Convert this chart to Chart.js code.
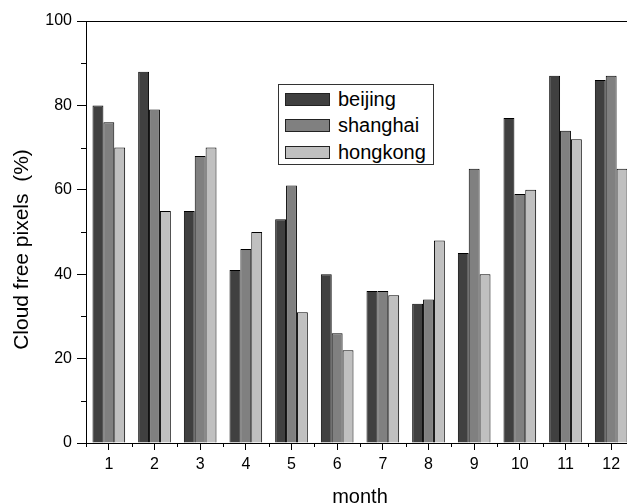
<!DOCTYPE html>
<html>
<head>
<meta charset="utf-8">
<script src="https://cdn.jsdelivr.net/npm/chart.js@4/dist/chart.umd.min.js"></script>
<style>
  html, body { margin: 0; padding: 0; background: #fff; }
  #wrap { position: relative; width: 627px; height: 504px; overflow: hidden; }
  #chart { position: absolute; left: 0; top: 0; }
  #legend {
    position: absolute; left: 278px; top: 84px; width: 154px; height: 79px;
    border: 1px solid #333; background: #fff;
    font-family: 'Liberation Sans', Arial, sans-serif; font-size: 20px; color: #000;
  }
  .lg-row { position: absolute; left: 6px; height: 26px; display: flex; align-items: center; }
  .lg-box { width: 43px; height: 11px; border: 1px solid #222; margin-right: 8px; }
</style>
</head>
<body>
<div id="wrap">
  <canvas id="chart" width="640" height="504"></canvas>
  <div id="legend"></div>
</div>
<script>
// ─── DATA ─────────────────────────────────────────────────
const MONTHS   = ['1', '2', '3', '4', '5', '6', '7', '8', '9', '10', '11', '12'];
const BEIJING  = [80, 88, 55, 41, 53, 40, 36, 33, 45, 77, 87, 86];
const SHANGHAI = [76, 79, 68, 46, 61, 26, 36, 34, 65, 59, 74, 87];
const HONGKONG = [70, 55, 70, 50, 31, 22, 35, 48, 40, 60, 72, 65];
const SERIES   = ['beijing', 'shanghai', 'hongkong'];
const Y_MINOR  = [10, 30, 50, 70, 90];   // short ticks between labelled ones

// ─── COLORS ───────────────────────────────────────────────
const FILL = ['#404040', '#808080', '#c0c0c0'];
const FONT = "'Liberation Sans', Arial, sans-serif";

// minor ticks + top/right frame, placed through the chart's own scales
const frameTicks = {
  id: 'frameTicks',
  afterDraw(chart) {
    const { ctx, chartArea: a, scales: { x, y } } = chart;
    ctx.save();
    ctx.strokeStyle = '#000';
    ctx.lineWidth = 1;
    ctx.beginPath();
    ctx.moveTo(a.left, a.top + 0.5);
    ctx.lineTo(a.right, a.top + 0.5);
    ctx.lineTo(a.right + 0.5, a.bottom);
    Y_MINOR.forEach(v => {
      const py = Math.round(y.getPixelForValue(v)) + 0.5;
      ctx.moveTo(a.left, py);
      ctx.lineTo(a.left - 5, py);
    });
    for (let i = 0; i <= MONTHS.length; i++) {
      const px = Math.round(x.getPixelForValue(i - 0.5)) + 0.5;
      ctx.moveTo(px, a.bottom);
      ctx.lineTo(px, a.bottom + 4);
    }
    ctx.stroke();
    ctx.restore();
  },
};

const values = [BEIJING, SHANGHAI, HONGKONG];

new Chart(document.getElementById('chart'), {
  type: 'bar',
  data: {
    labels: MONTHS,
    datasets: SERIES.map((name, i) => ({
      label: name,
      data: values[i],
      backgroundColor: FILL[i],
      borderColor: '#000',
      borderWidth: 1,
      categoryPercentage: 0.715,
      barPercentage: 1,
    })),
  },
  options: {
    responsive: false,
    animation: false,
    layout: { padding: { top: 21, right: 6, left: 0, bottom: 0 } },
    plugins: { legend: { display: false }, tooltip: { enabled: false } },
    scales: {
      x: {
        offset: true,
        grid: { display: true, drawOnChartArea: false, offset: false, tickLength: 7, tickColor: '#000' },
        border: { color: '#000', width: 1 },
        ticks: { color: '#000', padding: 5, font: { family: FONT, size: 16 }, maxRotation: 0 },
        title: {
          display: true, text: 'month', color: '#000',
          font: { family: FONT, size: 20, lineHeight: 1 },
          padding: { top: 0, bottom: -3 },
        },
        afterFit: s => { s.height = 61; },
      },
      y: {
        min: 0, max: 100,
        grid: { display: true, drawOnChartArea: false, tickLength: 9, tickColor: '#000' },
        border: { color: '#000', width: 1 },
        ticks: { stepSize: 20, color: '#000', padding: 5, font: { family: FONT, size: 16 } },
        title: {
          display: true, text: 'Cloud free pixels  (%)      ', color: '#000',
          font: { family: FONT, size: 21, lineHeight: 1 },
          padding: { top: 12, bottom: 0 },
        },
        afterFit: s => { s.width = 86; },
      },
    },
  },
  plugins: [frameTicks],
});

// custom boxed legend sitting inside the plot
document.getElementById('legend').innerHTML = SERIES.map((name, i) => `
  <div class="lg-row" style="top:${1 + i * 26.5}px">
    <span class="lg-box" style="background:${FILL[i]}"></span>
    <span>${name}</span>
  </div>`).join('');
</script>
</body>
</html>
